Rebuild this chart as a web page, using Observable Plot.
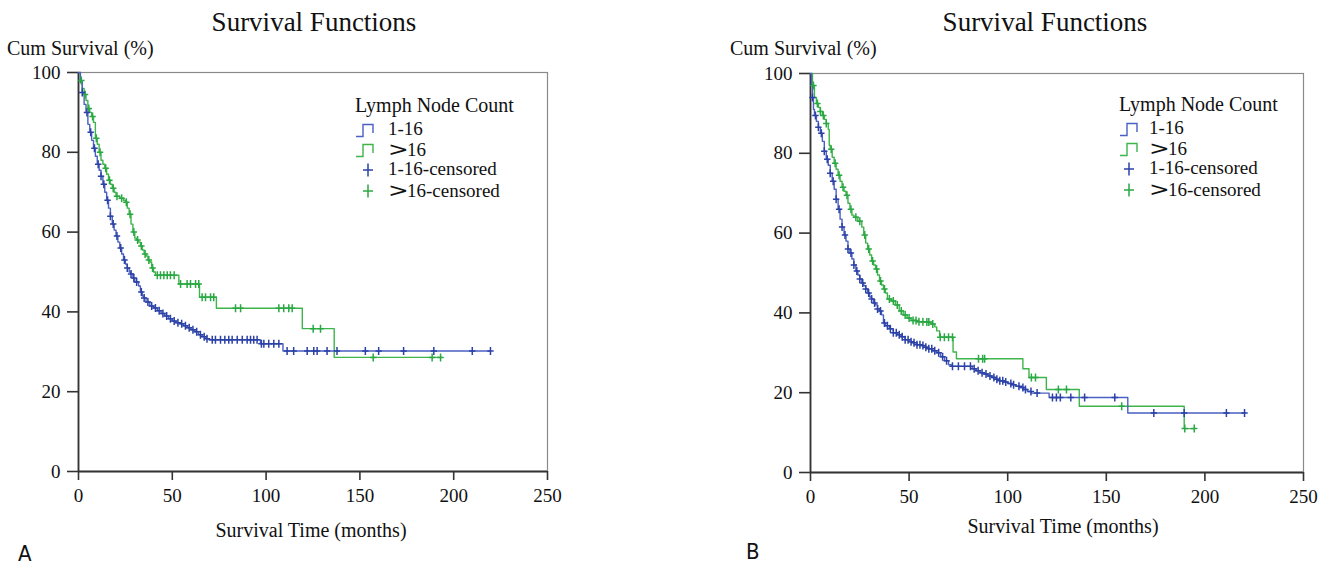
<!DOCTYPE html>
<html>
<head>
<meta charset="utf-8">
<script src="https://cdn.jsdelivr.net/npm/d3@7"></script>
<script src="https://cdn.jsdelivr.net/npm/@observablehq/plot@0.6"></script>
<style>
  html, body { margin: 0; padding: 0; background: #fff; }
  #wrap { position: relative; width: 1332px; height: 566px; overflow: hidden; font-family: "Liberation Serif", "Times New Roman", serif; color: #111; }
  .abs { position: absolute; white-space: nowrap; line-height: 1; }
  .title { font-size: 27px; transform: translateX(-50%); }
  .ylab { font-size: 20px; }
  .xlab { font-size: 20px; transform: translateX(-50%); }
  .panel { font-family: "Liberation Sans Narrow", "DejaVu Sans Condensed", "Liberation Sans", sans-serif; font-size: 22px; }
  .legend-title { font-size: 20px; }
  .legend-row { position: absolute; height: 20px; line-height: 20px; font-size: 19px; white-space: nowrap; }
  .legend-row svg { position: absolute; top: 0; }
  .gt { display: inline-block; font-family: "DejaVu Sans", sans-serif; font-size: 19px; line-height: 20px; width: 19px; transform: scaleX(1.3); transform-origin: left center; }
</style>
</head>
<body>
<div id="wrap"></div>
<script>
// ---------- Data ----------
const xTicks = [0, 50, 100, 150, 200, 250];
const yTicks = [0, 20, 40, 60, 80, 100];
const groups = ["1-16", ">16"];

// Panel A: 1-16 group (blue)
const aBlueT = [0,1,2,3,4,5,6,7,8,9,10,11,12,13,14,15,16,17,18,19,20,21,22,23,24,25,26,27,28,29,30,32,33,34,35,36,38,40,42,44,46,48,50,52,54,56,58,60,62,64,66,68,69.5,97,109,219.6];
const aBlueS = [100,97.5,95,92,90,87,85,83,81,79,77,75.5,74,72,70,68,66,64,62,60.5,59,57.5,56,54.5,53,52,51,50,49.5,48.5,47.5,46.5,45,44,43.5,42.5,41.5,41,40.3,39.6,39,38.3,37.7,37.3,37,36.5,36,35.5,35,34.3,33.8,33.3,33,32,30.2,30.2];
const aBlueCensor = [2,4.5,6.5,8.5,10.5,12,13.5,15.5,17,18.5,20.5,22.5,24.5,26,28,29.5,31,33.5,35,37,39,41,43,45,47,49,51,53,55,57,59,61,63,65,67,68.5,71.3,73,75.7,78,80.1,81.9,84.6,87.3,89.9,91.7,93.4,95.2,97.5,98.8,101.4,104.1,106.8,111.2,114.7,121.9,125.4,127.2,132.5,137.8,152.9,160,173.3,189.4,209.9,219.6];

// Panel A: >16 group (green)
const aGreenT = [0,1,2,3,4,5,6,7,8,9,10,11,12,13,14,15,16,17,18,19,20,22,24,25,26,27,28,29,30,31,32,33,34,35,36,37,38,39,40,41,53.5,64.5,73.5,119.3,136.3,193.8];
const aGreenS = [100,98,96,94.5,93,91,90,89,87.5,83.5,82,80,78,77,76,74.5,73,72,71,70,69,68.5,68,67.5,66,64.5,62,60,58.5,58,57.5,56.5,55.5,54.5,54,53,52.5,51,50,49.2,47,43.7,40.9,35.8,28.6,28.6];
const aGreenCensor = [1.5,3.5,5.5,7.5,9.5,11.5,14.5,16.5,18.5,20.5,23,25.5,27.5,29.5,31.5,33.5,35.5,37.5,39.5,42,43.7,45.5,47.3,49,51,54.4,57.9,59.7,62.4,64.1,65.9,67.7,70.4,72.1,83.7,86.4,106.8,109.4,112.1,113.9,125.1,129,157.1,188.5,193];

// Panel B: 1-16 group (blue)
const bBlueT = [0,0.5,1,1.5,2,3,4,5,6,7,8,9,10,11,12,13,14,15,16,17,18,19,20,21,22,23,24,25,26,27,28,29,30,31,32,33,34,35,36,37,38,40,42,44,46,48,50,52,54,56,58,60,62,64,66,68,70,71.5,82,84,86,88,90,92,94,96,98,100,102,104,106,108,110,112,121,160.9,220.2];
const bBlueS = [100,97,94,91,89.5,88,86.5,85,83,80.5,78.5,77,75,73,71,68.5,66,63.5,61.5,59.5,58,56,55,53.5,52,50.5,49.5,48.5,47.5,46.8,46,45,44,43.5,42.5,42,41,40.5,39.5,37.5,36.8,36,35,34.5,34,33.3,32.8,32.5,32,31.8,31.4,31,30.5,30,29,28,27,26.6,26,25.5,25,24.7,24.2,23.8,23.4,23,22.7,22.3,22,21.6,21.3,20.8,20.3,19.9,18.8,14.9,14.9];
const bBlueCensor = [1,2.5,4,5.5,7,8.5,10,11.5,13,14.5,16,17.5,19,20.5,22,23.5,25,26.5,28,29.5,31,32.5,34,35.5,37.5,39,40.5,42,43.5,45,46.5,48,49.5,51,52.5,54,55.5,57,58.5,60,61.5,63,65,67,69,72,75,78.1,81.1,83,85,87,89,91,93,94.5,96,97.5,99,101.6,103,105.7,107.7,109,111.8,114.9,122.7,124.7,126.7,132,139,154.3,174.1,189.5,210.9,220.1];

// Panel B: >16 group (green)
const bGreenT = [0,1,2,3,4,5,6,7,8,9,9.5,10,11,12,13,14,15,16,17,18,19,20,21,22,24,26,27,28,29,30,31,32,33,34,35,36,37,38,39,41,43,45,47,49,51,54,58,61,63,64,65.5,72.3,74,107.7,110.8,119.6,136.3,189.5,194.6];
const bGreenS = [100,97,94,92.5,91.5,90.5,89.5,88.5,87.5,86,82,81,79,77.5,76,74.5,73,71.5,70.5,69.5,67.5,66,64.5,64,63,61.5,59.5,57.5,56,54.5,53,52,51,49.5,48,47,46,45,43.5,43,42,40.5,39.5,38.7,38.1,37.8,37.7,37.2,36.5,35.5,33.9,30.2,28.5,26,23.8,20.8,16.6,11,11];
const bGreenCensor = [1.5,3.5,5,6.5,8,10.5,12.5,14.5,16.5,18.5,20.5,23,25,27.5,29.5,31.5,33.5,35.5,37.5,40,42,44,46,48,50,52,53.5,55,57,59,60,62,65.8,67.9,70,72,85.2,87.3,88.3,112,114.1,125.7,129.8,157.8,189.8,194.6];

// ---------- Styles ----------
const BLUE = "#4a60c2", BLUE_DARK = "#2c42a6";
const GREEN = "#3db54b", GREEN_DARK = "#2aa843";

const censorSymbol = {
  draw(ctx, size) {
    const r = Math.sqrt(size / Math.PI);
    ctx.moveTo(-r * 0.8, 0); ctx.lineTo(r * 0.8, 0);
    ctx.moveTo(0, -r); ctx.lineTo(0, r);
  }
};

function curve(times, surv) { return times.map((t, i) => ({t, s: surv[i]})); }
function censors(times, surv, cens) {
  return cens.map(c => {
    let v = surv[0];
    for (let i = 0; i < times.length; i++) { if (times[i] <= c) v = surv[i]; else break; }
    return {t: c, s: v};
  });
}

function panel(cfg) {
  const svg = Plot.plot({
    width: 666, height: 566,
    marginLeft: cfg.ml, marginRight: cfg.mr, marginTop: cfg.mt, marginBottom: cfg.mb,
    x: {domain: [0, 250], ticks: xTicks},
    y: {domain: [0, 100], ticks: yTicks},
    style: {fontFamily: "'Liberation Serif','Times New Roman',serif", fontSize: "19px", background: "transparent", overflow: "visible"},
    marks: [
      Plot.frame({stroke: "#8a8a8a", strokeWidth: 1.2}),
      Plot.axisY({ticks: yTicks, tickSize: 11, tickPadding: 7, label: null, stroke: "#333", strokeWidth: 1.6, fill: "#111"}),
      Plot.axisX({ticks: xTicks, tickSize: 9, tickPadding: 8, label: null, stroke: "#333", strokeWidth: 1.6, fill: "#111"}),
      Plot.ruleX([0], {stroke: "#333", strokeWidth: 1.8}),
      Plot.ruleY([0], {stroke: "#333", strokeWidth: 1.8}),
      Plot.line(curve(cfg.gT, cfg.gS), {x: "t", y: "s", curve: "step-after", stroke: GREEN, strokeWidth: 1.4}),
      Plot.line(curve(cfg.bT, cfg.bS), {x: "t", y: "s", curve: "step-after", stroke: BLUE, strokeWidth: 1.4}),
      Plot.dot(censors(cfg.gT, cfg.gS, cfg.gC), {x: "t", y: "s", symbol: censorSymbol, r: 4, fill: "none", stroke: GREEN_DARK, strokeWidth: 1.5}),
      Plot.dot(censors(cfg.bT, cfg.bS, cfg.bC), {x: "t", y: "s", symbol: censorSymbol, r: 4, fill: "none", stroke: BLUE_DARK, strokeWidth: 1.5})
    ]
  });
  svg.style.position = "absolute";
  svg.style.left = cfg.left + "px";
  svg.style.top = "0px";
  return svg;
}

const wrap = document.getElementById("wrap");

function addText(cls, text, left, top) {
  const d = document.createElement("div");
  d.className = "abs " + cls;
  d.textContent = text;
  d.style.left = left + "px";
  d.style.top = top + "px";
  wrap.appendChild(d);
  return d;
}

function stepIcon(color) {
  return `<svg width="22" height="20" viewBox="0 0 22 20"><path d="M1,17.5 H8 V5.5 H18 V14" fill="none" stroke="${color}" stroke-width="1.4"/></svg>`;
}
function plusIcon(color, cx) {
  return `<svg width="22" height="20" viewBox="0 0 22 20"><path d="M${cx-5},11 H${cx+5} M${cx},4.5 V17.5" fill="none" stroke="${color}" stroke-width="1.5"/></svg>`;
}
function labelHTML(s) {
  const esc = s.replace(/&/g, "&amp;").replace(/</g, "&lt;");
  if (esc.startsWith(">")) return `<span class="gt">&gt;</span>` + esc.slice(1);
  return esc;
}

function legend(left, textLeft, top, plusCx) {
  addText("legend-title", "Lymph Node Count", left, top);
  const rows = [
    [stepIcon(BLUE), groups[0]],
    [stepIcon(GREEN), groups[1]],
    [plusIcon(BLUE_DARK, plusCx), groups[0] + "-censored"],
    [plusIcon(GREEN_DARK, plusCx), groups[1] + "-censored"]
  ];
  rows.forEach((r, i) => {
    const d = document.createElement("div");
    d.className = "legend-row";
    d.style.left = left + "px";
    d.style.top = (top + 24 + i * 20.2) + "px";
    d.innerHTML = r[0] + `<span style="position:absolute;left:${textLeft - left}px;top:0">${labelHTML(r[1])}</span>`;
    wrap.appendChild(d);
  });
}

// Panel A
wrap.appendChild(panel({left: 0, ml: 78, mr: 119, mt: 72, mb: 95,
  bT: aBlueT, bS: aBlueS, bC: aBlueCensor, gT: aGreenT, gS: aGreenS, gC: aGreenCensor}));
addText("title", "Survival Functions", 314, 9);
addText("ylab", "Cum Survival (%)", 7, 38);
addText("xlab", "Survival Time (months)", 311, 520);
addText("panel", "A", 18, 543);
legend(355, 388, 95, 13);

// Panel B
wrap.appendChild(panel({left: 666, ml: 144, mr: 29, mt: 73, mb: 94,
  bT: bBlueT, bS: bBlueS, bC: bBlueCensor, gT: bGreenT, gS: bGreenS, gC: bGreenCensor}));
addText("title", "Survival Functions", 1045, 9);
addText("ylab", "Cum Survival (%)", 730, 38);
addText("xlab", "Survival Time (months)", 1063, 516);
addText("panel", "B", 746, 541);
legend(1119, 1149, 94, 10);
</script>
</body>
</html>
